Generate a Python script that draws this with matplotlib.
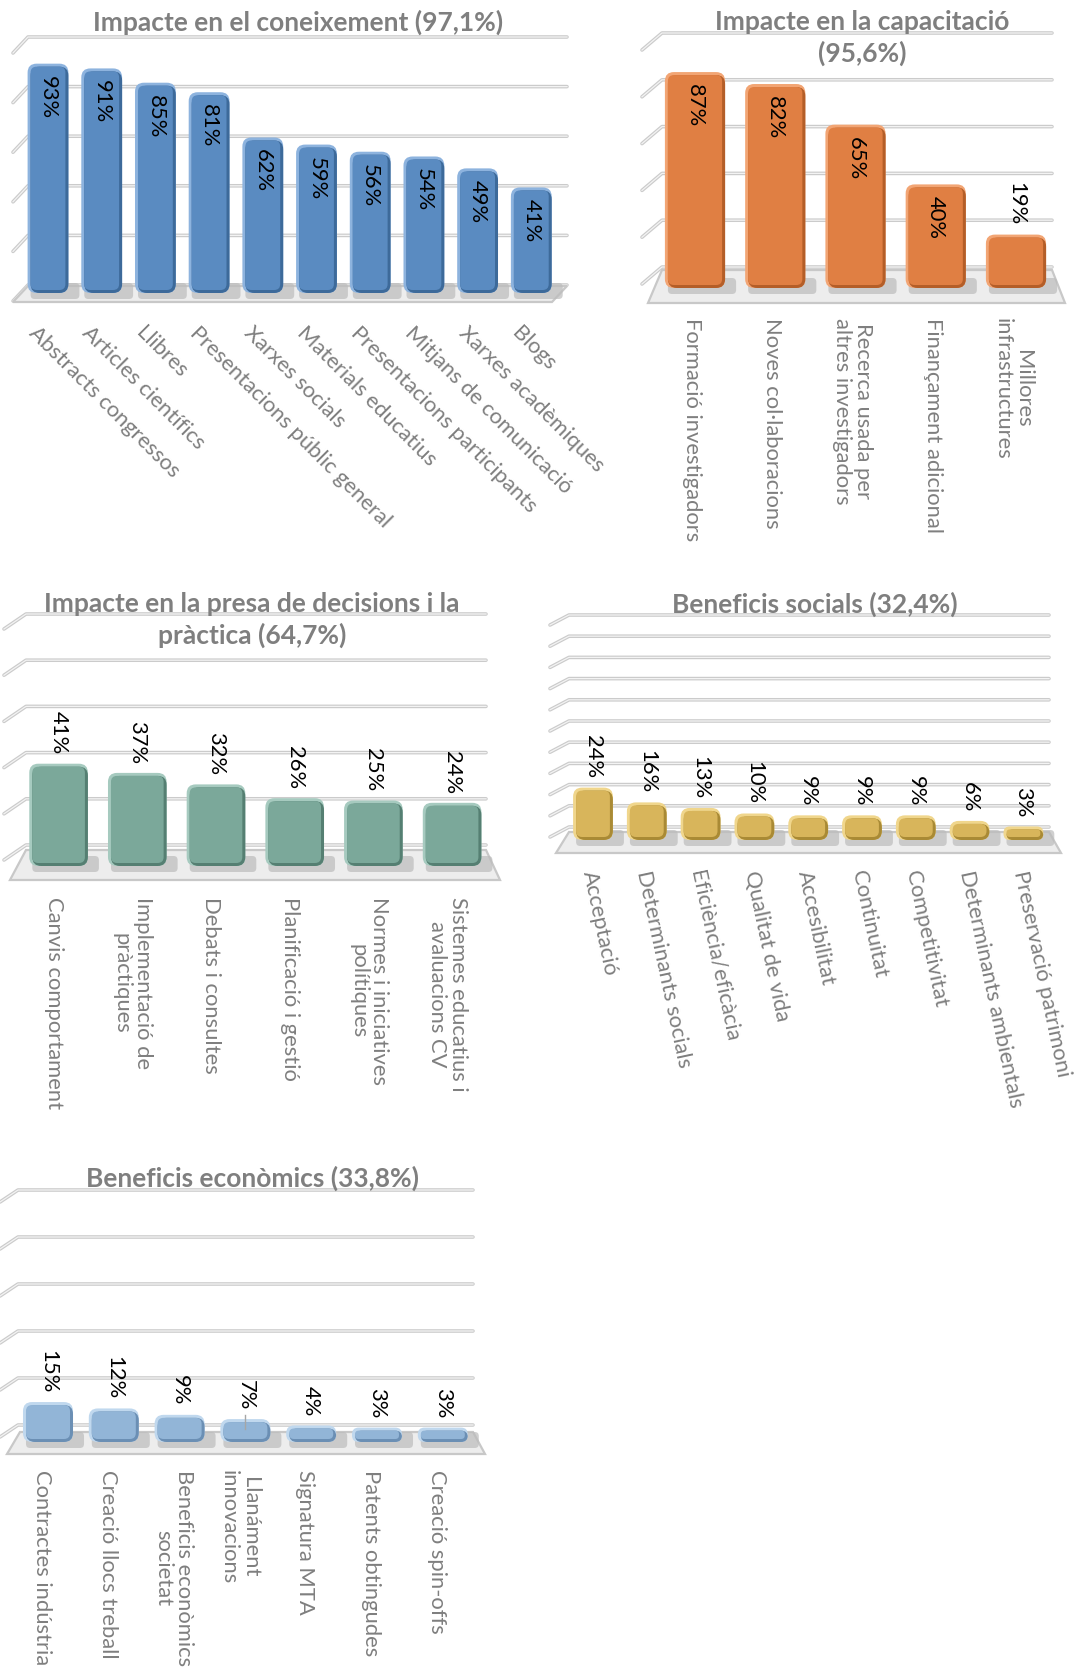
import numpy as np
import matplotlib.pyplot as plt
from matplotlib.patches import FancyBboxPatch, Polygon

plt.rcParams['font.family'] = ['Lato', 'DejaVu Sans']

W, H = 1084, 1668

# ---- data
coneix_cats = ["Abstracts congressos", "Articles científics", "Llibres",
               "Presentacions públic general", "Xarxes socials", "Materials educatius",
               "Presentacions participants", "Mitjans de comunicació",
               "Xarxes acadèmiques", "Blogs"]
coneix_vals = [93, 91, 85, 81, 62, 59, 56, 54, 49, 41]

capac_cats = ["Formació investigadors", "Noves col·laboracions",
              "Recerca usada per\naltres investigadors", "Finançament adicional",
              "Millores\ninfrastructures"]
capac_vals = [87, 82, 65, 40, 19]

decis_cats = ["Canvis comportament", "Implementació de\npràctiques", "Debats i consultes",
              "Planificació i gestió", "Normes i iniciatives\npolítiques",
              "Sistemes educatius i\navaluacions CV"]
decis_vals = [41, 37, 32, 26, 25, 24]

social_cats = ["Acceptació", "Determinants socials", "Eficiència/eficàcia", "Qualitat de vida",
               "Accesibilitat", "Continuitat", "Competitivitat", "Determinants ambientals",
               "Preservació patrimoni"]
social_vals = [24, 16, 13, 10, 9, 9, 9, 6, 3]

econ_cats = ["Contractes indústria", "Creació llocs treball", "Beneficis econòmics\nsocietat",
             "Llanáment\ninnovacions", "Signatura MTA", "Patents obtingudes", "Creació spin-offs"]
econ_vals = [15, 12, 9, 7, 4, 3, 3]

titles = ["Impacte en el coneixement (97,1%)",
          "Impacte en la capacitació\n(95,6%)",
          "Impacte en la presa de decisions i la\npràctica (64,7%)",
          "Beneficis socials (32,4%)",
          "Beneficis econòmics (33,8%)"]

GRAY = '#7f7f7f'
LAB_FS = 15.8
CAT_FS = 15.8
TITLE_FS = 19


def panel(fig, cats, vals, title, colors, lay):
	n = len(vals)
	dx, k, base, pad = lay['dx'], lay['k'], lay['base'], 4.0
	left = lay['cx0'] - dx / 2
	ax = fig.add_axes([left / W, 1 - base / H, n * dx / W, 100 * k / H])
	ax.set_xlim(-0.5, n - 0.5)
	ax.set_ylim(0, 100)
	ax.axis('off')

	def X(px):
		return (px - left) / dx - 0.5

	def Y(py):
		return (base - py) / k

	# back wall gridlines with the slanted side wall part
	gx0, gx1 = lay['gx']
	sdx, sdy = lay['slant']
	for g in np.arange(0, 101, lay['step']):
		py = lay['gy0'] - g * lay['gk']
		xs = [X(gx0 - sdx), X(gx0), X(gx1)]
		ys = [Y(py + sdy), Y(py), Y(py)]
		ax.plot(xs, ys, color='#cbcbcb', lw=2.6, clip_on=False, zorder=1,
				solid_capstyle='round', solid_joinstyle='round')
		ax.plot(xs, ys, color='#f3f3f3', lw=0.9, clip_on=False, zorder=1)

	# floor
	pts = [(X(a), Y(b)) for a, b in lay['floor']]
	ax.add_patch(Polygon(pts, closed=True, fc='#ededed', ec='#c8c8c8', lw=1.6,
						 clip_on=False, zorder=2))

	asp = dx / k
	padx = pad / dx
	w = lay['bw'] - 2 * padx
	c_main, c_dark, c_light = colors
	for i, v in enumerate(vals):
		hpx = v * k + 2 * pad
		r = min(9.0, hpx / 2 - 0.5, w * dx / 2) / dx
		# soft shadow on the floor, behind and to the right of the bar
		ax.add_patch(FancyBboxPatch((i - w / 2 + 3 / dx, Y(base + pad + 2)), w + 8 / dx, 8 / k,
									boxstyle="round,pad=%f,rounding_size=%f" % (padx, 4 / dx),
									mutation_aspect=asp, fc='#bcbcbc', ec='none',
									alpha=0.7, clip_on=False, zorder=3))
		# bevel: light rim, dark rim, main face
		ax.add_patch(FancyBboxPatch((i - w / 2, 0), w, v,
									boxstyle="round,pad=%f,rounding_size=%f" % (padx, r),
									mutation_aspect=asp, fc=c_light, ec='none',
									clip_on=False, zorder=4))
		ax.add_patch(FancyBboxPatch((i - w / 2 + 1.5 / dx, -1.5 / k), w, v,
									boxstyle="round,pad=%f,rounding_size=%f" % ((pad - 1.5) / dx, r),
									mutation_aspect=asp, fc=c_dark, ec='none',
									clip_on=False, zorder=4))
		r2 = max(min(r * dx - 3, (v * k + 2) / 2 - 0.5), 0.5) / dx
		ax.add_patch(FancyBboxPatch((i - w / 2, 0), w, v,
									boxstyle="round,pad=%f,rounding_size=%f" % ((pad - 3) / dx, r2),
									mutation_aspect=asp, fc=c_main, ec='none',
									clip_on=False, zorder=5))

		# data label
		if v >= lay['inside_min']:
			ax.text(i, v - 8 / k, "%d%%" % v, rotation=270, ha='center', va='top',
					fontsize=LAB_FS, color='black', zorder=6, clip_on=False)
		else:
			ax.text(i, v + 13 / k, "%d%%" % v, rotation=270, ha='center', va='bottom',
					fontsize=LAB_FS, color='black', zorder=6, clip_on=False)
		if i in lay.get('leader', []):
			ax.plot([i, i], [v + 8 / k, v - 6 / k], color='#a6a6a6', lw=1, zorder=6,
					clip_on=False)

		# category label
		rot = lay['rot']
		if rot == 270:
			ax.text(i + lay['lx'] / dx, Y(lay['ly']), cats[i], rotation=270, ha='center',
					va='top', multialignment='center', fontsize=CAT_FS, color=GRAY,
					clip_on=False, linespacing=1.05)
		else:
			ax.text(i + lay['lx'] / dx, Y(lay['ly']), cats[i], rotation=rot,
					rotation_mode='anchor', ha='left', va='center', fontsize=CAT_FS,
					color=GRAY, clip_on=False)

	tx, ty = lay['title']
	fig.text(tx / W, 1 - ty / H, title, ha='center', va='center', fontsize=TITLE_FS,
			 fontweight='bold', color=GRAY, linespacing=1.32)
	return ax


fig = plt.figure(figsize=(W / 100, H / 100), dpi=100)
fig.patch.set_facecolor('white')

lay1 = dict(cx0=48, dx=53.7, bw=0.76, base=289, k=2.38, gy0=285, gk=2.48, step=20,
			gx=(28, 567), slant=(15, 16), floor=[(28, 286), (567, 286), (552, 302), (13, 302)],
			inside_min=0, rot=-45, lx=-16, ly=330, title=(298, 22))
lay2 = dict(cx0=695, dx=80.25, bw=0.75, base=284, k=2.39, gy0=267, gk=2.34, step=20,
			gx=(662, 1052), slant=(20, 17), floor=[(662, 270), (1052, 270), (1065, 303), (648, 303)],
			inside_min=30, rot=270, lx=-3, ly=318, title=(862, 38))
lay3 = dict(cx0=58.6, dx=78.7, bw=0.745, base=862, k=2.3, gy0=845, gk=2.31, step=20,
			gx=(26, 486), slant=(22, 15), floor=[(26, 850), (486, 850), (500, 880), (10, 880)],
			inside_min=101, rot=270, lx=-5, ly=897, title=(252, 620))
lay4 = dict(cx0=593, dx=53.8, bw=0.74, base=836, k=1.85, gy0=827, gk=2.12, step=10,
			gx=(569, 1049), slant=(19, 10), floor=[(569, 832), (1049, 832), (1061, 853), (556, 853)],
			inside_min=101, rot=-78, lx=-4, ly=871, title=(815, 604))
lay5 = dict(cx0=48, dx=65.8, bw=0.76, base=1438, k=2.13, gy0=1425, gk=2.35, step=20,
			gx=(18, 473), slant=(18, 12), floor=[(20, 1432), (473, 1432), (485, 1454), (7, 1454)],
			inside_min=101, rot=270, lx=-6, ly=1470, title=(252, 1178), leader=[3])

panel(fig, coneix_cats, coneix_vals, titles[0], ('#5A8BC1', '#3D6A9A', '#8DB3DE'), lay1)
panel(fig, capac_cats, capac_vals, titles[1], ('#E07F43', '#B45E28', '#F2A574'), lay2)
panel(fig, decis_cats, decis_vals, titles[2], ('#7BA89A', '#557F72', '#A6CABF'), lay3)
panel(fig, social_cats, social_vals, titles[3], ('#D8B55B', '#A98A35', '#F0D68C'), lay4)
panel(fig, econ_cats, econ_vals, titles[4], ('#92B5D7', '#6B8FB4', '#C0D8EE'), lay5)

plt.savefig('out.png', dpi=100)
plt.close()
